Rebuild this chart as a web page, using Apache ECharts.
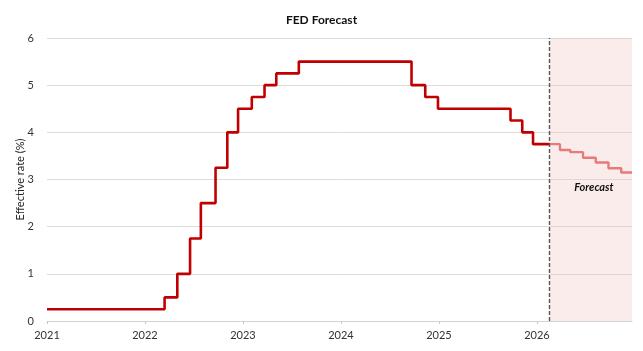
<!DOCTYPE html>
<html>
<head>
<meta charset="utf-8">
<script src="https://cdn.jsdelivr.net/npm/echarts@6/dist/echarts.min.js"></script>
<style>
  html, body { margin: 0; padding: 0; background: #fff; }
  #chart { width: 643px; height: 351px; }
</style>
</head>
<body>
<div id="chart"></div>
<script>
// effective rate, decimal year of each change
var histYears = [2021.0, 2022.2, 2022.33, 2022.46, 2022.57, 2022.72, 2022.84, 2022.95,
  2023.09, 2023.22, 2023.34, 2023.57, 2024.72, 2024.86, 2024.99, 2025.73, 2025.85, 2025.96, 2026.13];
var histRates = [0.25, 0.5, 1.0, 1.75, 2.5, 3.25, 4.0, 4.5,
  4.75, 5.0, 5.25, 5.5, 5.0, 4.75, 4.5, 4.25, 4.0, 3.75, 3.75];

var fcYears = [2026.13, 2026.235, 2026.34, 2026.47, 2026.6, 2026.73, 2026.86, 2026.97];
var fcRates = [3.75, 3.625, 3.58, 3.46, 3.36, 3.24, 3.15, 3.15];

var forecastStart = 2026.13;
var forecastEnd = 2026.97;
var yTicks = [0, 1, 2, 3, 4, 5, 6];

function pairs(xs, ys) {
  return xs.map(function (x, i) { return [x, ys[i]]; });
}

var chart = echarts.init(document.getElementById('chart'));
var font = 'Lato, "Open Sans", sans-serif';

chart.setOption({
  animation: false,
  title: {
    text: 'FED Forecast',
    left: 'center',
    top: 9,
    textStyle: { fontSize: 12, fontWeight: 'bold', color: '#111', fontFamily: font }
  },
  grid: { left: 47, right: 11, top: 38, bottom: 30 },
  xAxis: {
    type: 'value',
    min: 2021,
    max: forecastEnd,
    interval: 1,
    axisLine: { lineStyle: { color: '#d0d0d0', type: 'dotted' } },
    axisTick: { show: true, length: 3, lineStyle: { color: '#c8c8c8' } },
    splitLine: { show: false },
    axisLabel: {
      color: '#333', fontSize: 11, fontFamily: font, margin: 9, showMaxLabel: false,
      formatter: function (v) { return Number.isInteger(v) ? String(v) : ''; }
    }
  },
  yAxis: {
    type: 'value',
    min: yTicks[0],
    max: yTicks[yTicks.length - 1],
    interval: 1,
    name: 'Effective rate (%)',
    nameLocation: 'middle',
    nameGap: 21,
    nameMoveOverlap: false,
    nameTextStyle: { color: '#222', fontSize: 11, fontFamily: font },
    axisLine: { show: false },
    axisTick: { show: false },
    splitLine: { lineStyle: { color: '#dcdcdc', width: 1 } },
    axisLabel: { color: '#333', fontSize: 11, fontFamily: font, margin: 13 }
  },
  series: [
    {
      type: 'line',
      step: 'end',
      data: pairs(histYears, histRates),
      symbol: 'none',
      lineStyle: { color: '#c00000', width: 2.6 },
      markArea: {
        silent: true,
        itemStyle: { color: 'rgba(244, 200, 200, 0.35)' },
        label: {
          show: true, position: 'inside', offset: [3, 8],
          color: '#111', fontSize: 11, fontWeight: 'bold', fontStyle: 'italic', fontFamily: font
        },
        data: [[{ xAxis: forecastStart, name: 'Forecast' }, { xAxis: forecastEnd }]]
      },
      markLine: {
        silent: true,
        symbol: 'none',
        label: { show: false },
        lineStyle: { color: '#555', type: [4, 2], width: 1.4 },
        data: [{ xAxis: forecastStart }]
      }
    },
    {
      type: 'line',
      step: 'end',
      data: pairs(fcYears, fcRates),
      symbol: 'none',
      lineStyle: { color: '#e57b7b', width: 2.4 }
    }
  ]
});
</script>
</body>
</html>
